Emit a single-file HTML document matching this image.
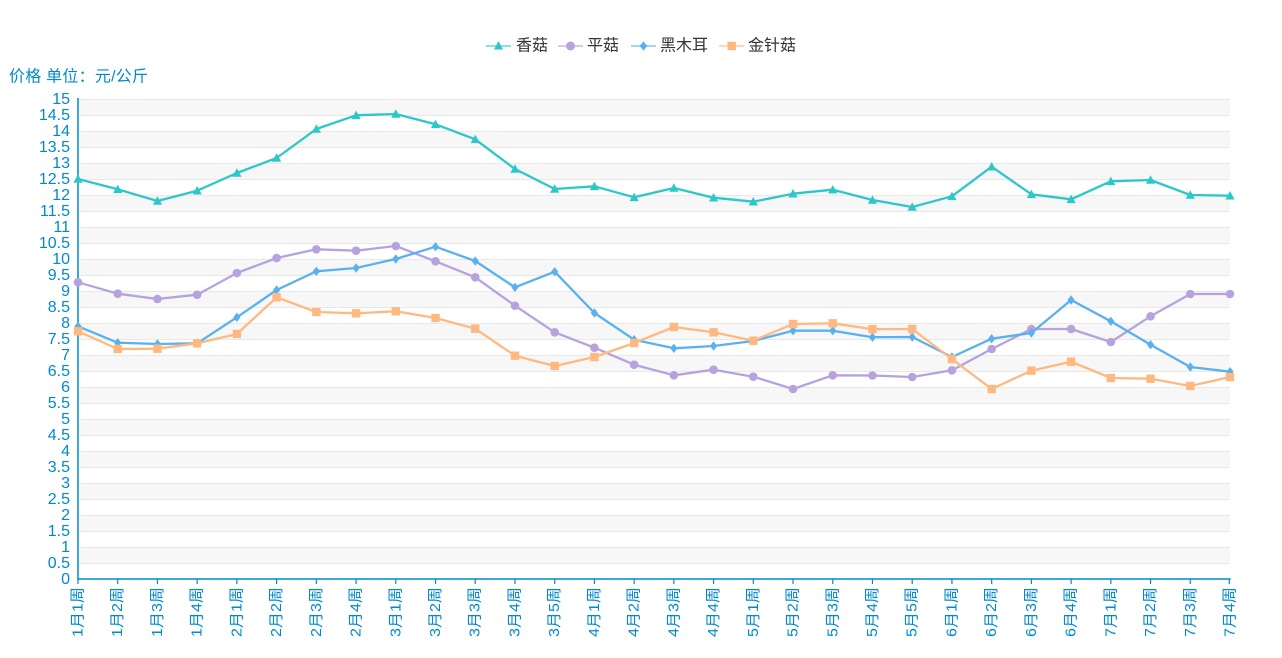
<!DOCTYPE html>
<html><head><meta charset="utf-8"><style>
html,body{margin:0;padding:0;background:#fff;}
svg{display:block;font-family:"Liberation Sans","Noto Sans CJK SC",sans-serif;}
</style></head><body>
<svg width="1282" height="658" viewBox="0 0 1282 658" xmlns="http://www.w3.org/2000/svg">
<defs>
<marker id="mTri" markerWidth="10" markerHeight="10" refX="5" refY="5" markerUnits="userSpaceOnUse" viewBox="0 0 10 10"><path d="M5,0.3 L9.6,8.8 L0.4,8.8Z" fill="#2ec7c9"/></marker>
<marker id="mCir" markerWidth="10" markerHeight="10" refX="5" refY="5" markerUnits="userSpaceOnUse" viewBox="0 0 10 10"><circle cx="5" cy="5" r="4.3" fill="#b6a2de"/></marker>
<marker id="mDia" markerWidth="10" markerHeight="10" refX="5" refY="5" markerUnits="userSpaceOnUse" viewBox="0 0 10 10"><path d="M5,0.3 L8.6,5 L5,9.7 L1.4,5Z" fill="#5ab1ef"/></marker>
<marker id="mSq" markerWidth="10" markerHeight="10" refX="5" refY="5" markerUnits="userSpaceOnUse" viewBox="0 0 10 10"><rect x="0.8" y="0.8" width="8.4" height="8.4" fill="#ffb980"/></marker>
</defs>

<g fill="#f7f7f7">
<rect x="78" y="99" width="1152" height="16"/>
<rect x="78" y="131" width="1152" height="16"/>
<rect x="78" y="163" width="1152" height="16"/>
<rect x="78" y="195" width="1152" height="16"/>
<rect x="78" y="227" width="1152" height="16"/>
<rect x="78" y="259" width="1152" height="16"/>
<rect x="78" y="291" width="1152" height="16"/>
<rect x="78" y="323" width="1152" height="16"/>
<rect x="78" y="355" width="1152" height="16"/>
<rect x="78" y="387" width="1152" height="16"/>
<rect x="78" y="419" width="1152" height="16"/>
<rect x="78" y="451" width="1152" height="16"/>
<rect x="78" y="483" width="1152" height="16"/>
<rect x="78" y="515" width="1152" height="16"/>
<rect x="78" y="547" width="1152" height="16"/>
</g>
<g stroke="#e8e8e8" stroke-width="1">
<line x1="78" x2="1230" y1="99.5" y2="99.5"/><line x1="78" x2="1230" y1="115.5" y2="115.5"/>
<line x1="78" x2="1230" y1="131.5" y2="131.5"/><line x1="78" x2="1230" y1="147.5" y2="147.5"/>
<line x1="78" x2="1230" y1="163.5" y2="163.5"/><line x1="78" x2="1230" y1="179.5" y2="179.5"/>
<line x1="78" x2="1230" y1="195.5" y2="195.5"/><line x1="78" x2="1230" y1="211.5" y2="211.5"/>
<line x1="78" x2="1230" y1="227.5" y2="227.5"/><line x1="78" x2="1230" y1="243.5" y2="243.5"/>
<line x1="78" x2="1230" y1="259.5" y2="259.5"/><line x1="78" x2="1230" y1="275.5" y2="275.5"/>
<line x1="78" x2="1230" y1="291.5" y2="291.5"/><line x1="78" x2="1230" y1="307.5" y2="307.5"/>
<line x1="78" x2="1230" y1="323.5" y2="323.5"/><line x1="78" x2="1230" y1="339.5" y2="339.5"/>
<line x1="78" x2="1230" y1="355.5" y2="355.5"/><line x1="78" x2="1230" y1="371.5" y2="371.5"/>
<line x1="78" x2="1230" y1="387.5" y2="387.5"/><line x1="78" x2="1230" y1="403.5" y2="403.5"/>
<line x1="78" x2="1230" y1="419.5" y2="419.5"/><line x1="78" x2="1230" y1="435.5" y2="435.5"/>
<line x1="78" x2="1230" y1="451.5" y2="451.5"/><line x1="78" x2="1230" y1="467.5" y2="467.5"/>
<line x1="78" x2="1230" y1="483.5" y2="483.5"/><line x1="78" x2="1230" y1="499.5" y2="499.5"/>
<line x1="78" x2="1230" y1="515.5" y2="515.5"/><line x1="78" x2="1230" y1="531.5" y2="531.5"/>
<line x1="78" x2="1230" y1="547.5" y2="547.5"/><line x1="78" x2="1230" y1="563.5" y2="563.5"/>
</g>

<text x="9" y="77" dominant-baseline="central" font-size="16" fill="#008acd" textLength="139" lengthAdjust="spacing">价格 单位：元/公斤</text>

<g stroke-width="2" opacity="0.55">
<line x1="486" x2="511" y1="46" y2="46" stroke="#2ec7c9"/>
<line x1="558" x2="583" y1="46" y2="46" stroke="#b6a2de"/>
<line x1="631" x2="656" y1="46" y2="46" stroke="#5ab1ef"/>
<line x1="719" x2="744" y1="46" y2="46" stroke="#ffb980"/>
</g>
<path d="M498.5,41 L503,49.5 L494,49.5Z" fill="#2ec7c9"/>
<circle cx="570.5" cy="46" r="4.5" fill="#b6a2de"/>
<path d="M643.5,41.3 L647.2,46 L643.5,50.7 L639.8,46Z" fill="#5ab1ef"/>
<rect x="727.5" y="41.8" width="8.4" height="8.4" fill="#ffb980"/>
<g font-size="16" fill="#333" dominant-baseline="central">
<text x="516" y="46">香菇</text>
<text x="587" y="46">平菇</text>
<text x="660" y="46">黑木耳</text>
<text x="748" y="46">金针菇</text>
</g>

<g font-size="16" fill="#008acd" text-anchor="end" dominant-baseline="central">
<text x="70" y="99.5">15</text><text x="70" y="115.5">14.5</text>
<text x="70" y="131.5">14</text><text x="70" y="147.5">13.5</text>
<text x="70" y="163.5">13</text><text x="70" y="179.5">12.5</text>
<text x="70" y="195.5">12</text><text x="70" y="211.5">11.5</text>
<text x="70" y="227.5">11</text><text x="70" y="243.5">10.5</text>
<text x="70" y="259.5">10</text><text x="70" y="275.5">9.5</text>
<text x="70" y="291.5">9</text><text x="70" y="307.5">8.5</text>
<text x="70" y="323.5">8</text><text x="70" y="339.5">7.5</text>
<text x="70" y="355.5">7</text><text x="70" y="371.5">6.5</text>
<text x="70" y="387.5">6</text><text x="70" y="403.5">5.5</text>
<text x="70" y="419.5">5</text><text x="70" y="435.5">4.5</text>
<text x="70" y="451.5">4</text><text x="70" y="467.5">3.5</text>
<text x="70" y="483.5">3</text><text x="70" y="499.5">2.5</text>
<text x="70" y="515.5">2</text><text x="70" y="531.5">1.5</text>
<text x="70" y="547.5">1</text><text x="70" y="563.5">0.5</text>
<text x="70" y="579.5">0</text>
</g>

<g stroke="#008acd" stroke-width="1.5">
<line x1="78" x2="78" y1="98" y2="579.5"/>
<line x1="77.3" x2="1230.7" y1="579" y2="579"/>
</g>
<g stroke="#008acd" stroke-width="1.2">
<line x1="78" x2="78" y1="579" y2="584"/><line x1="117.72" x2="117.72" y1="579" y2="584"/>
<line x1="157.45" x2="157.45" y1="579" y2="584"/><line x1="197.17" x2="197.17" y1="579" y2="584"/>
<line x1="236.9" x2="236.9" y1="579" y2="584"/><line x1="276.62" x2="276.62" y1="579" y2="584"/>
<line x1="316.34" x2="316.34" y1="579" y2="584"/><line x1="356.07" x2="356.07" y1="579" y2="584"/>
<line x1="395.79" x2="395.79" y1="579" y2="584"/><line x1="435.52" x2="435.52" y1="579" y2="584"/>
<line x1="475.24" x2="475.24" y1="579" y2="584"/><line x1="514.97" x2="514.97" y1="579" y2="584"/>
<line x1="554.69" x2="554.69" y1="579" y2="584"/><line x1="594.41" x2="594.41" y1="579" y2="584"/>
<line x1="634.14" x2="634.14" y1="579" y2="584"/><line x1="673.86" x2="673.86" y1="579" y2="584"/>
<line x1="713.59" x2="713.59" y1="579" y2="584"/><line x1="753.31" x2="753.31" y1="579" y2="584"/>
<line x1="793.03" x2="793.03" y1="579" y2="584"/><line x1="832.76" x2="832.76" y1="579" y2="584"/>
<line x1="872.48" x2="872.48" y1="579" y2="584"/><line x1="912.21" x2="912.21" y1="579" y2="584"/>
<line x1="951.93" x2="951.93" y1="579" y2="584"/><line x1="991.66" x2="991.66" y1="579" y2="584"/>
<line x1="1031.38" x2="1031.38" y1="579" y2="584"/><line x1="1071.1" x2="1071.1" y1="579" y2="584"/>
<line x1="1110.83" x2="1110.83" y1="579" y2="584"/><line x1="1150.55" x2="1150.55" y1="579" y2="584"/>
<line x1="1190.28" x2="1190.28" y1="579" y2="584"/><line x1="1229.3" x2="1229.3" y1="579" y2="584"/>
</g>

<g font-size="15" fill="#008acd" text-anchor="end" dominant-baseline="central">
<text transform="translate(78,587) rotate(-90)" textLength="50" lengthAdjust="spacingAndGlyphs">1月1周</text>
<text transform="translate(117.72,587) rotate(-90)" textLength="50" lengthAdjust="spacingAndGlyphs">1月2周</text>
<text transform="translate(157.45,587) rotate(-90)" textLength="50" lengthAdjust="spacingAndGlyphs">1月3周</text>
<text transform="translate(197.17,587) rotate(-90)" textLength="50" lengthAdjust="spacingAndGlyphs">1月4周</text>
<text transform="translate(236.9,587) rotate(-90)" textLength="50" lengthAdjust="spacingAndGlyphs">2月1周</text>
<text transform="translate(276.62,587) rotate(-90)" textLength="50" lengthAdjust="spacingAndGlyphs">2月2周</text>
<text transform="translate(316.34,587) rotate(-90)" textLength="50" lengthAdjust="spacingAndGlyphs">2月3周</text>
<text transform="translate(356.07,587) rotate(-90)" textLength="50" lengthAdjust="spacingAndGlyphs">2月4周</text>
<text transform="translate(395.79,587) rotate(-90)" textLength="50" lengthAdjust="spacingAndGlyphs">3月1周</text>
<text transform="translate(435.52,587) rotate(-90)" textLength="50" lengthAdjust="spacingAndGlyphs">3月2周</text>
<text transform="translate(475.24,587) rotate(-90)" textLength="50" lengthAdjust="spacingAndGlyphs">3月3周</text>
<text transform="translate(514.97,587) rotate(-90)" textLength="50" lengthAdjust="spacingAndGlyphs">3月4周</text>
<text transform="translate(554.69,587) rotate(-90)" textLength="50" lengthAdjust="spacingAndGlyphs">3月5周</text>
<text transform="translate(594.41,587) rotate(-90)" textLength="50" lengthAdjust="spacingAndGlyphs">4月1周</text>
<text transform="translate(634.14,587) rotate(-90)" textLength="50" lengthAdjust="spacingAndGlyphs">4月2周</text>
<text transform="translate(673.86,587) rotate(-90)" textLength="50" lengthAdjust="spacingAndGlyphs">4月3周</text>
<text transform="translate(713.59,587) rotate(-90)" textLength="50" lengthAdjust="spacingAndGlyphs">4月4周</text>
<text transform="translate(753.31,587) rotate(-90)" textLength="50" lengthAdjust="spacingAndGlyphs">5月1周</text>
<text transform="translate(793.03,587) rotate(-90)" textLength="50" lengthAdjust="spacingAndGlyphs">5月2周</text>
<text transform="translate(832.76,587) rotate(-90)" textLength="50" lengthAdjust="spacingAndGlyphs">5月3周</text>
<text transform="translate(872.48,587) rotate(-90)" textLength="50" lengthAdjust="spacingAndGlyphs">5月4周</text>
<text transform="translate(912.21,587) rotate(-90)" textLength="50" lengthAdjust="spacingAndGlyphs">5月5周</text>
<text transform="translate(951.93,587) rotate(-90)" textLength="50" lengthAdjust="spacingAndGlyphs">6月1周</text>
<text transform="translate(991.66,587) rotate(-90)" textLength="50" lengthAdjust="spacingAndGlyphs">6月2周</text>
<text transform="translate(1031.38,587) rotate(-90)" textLength="50" lengthAdjust="spacingAndGlyphs">6月3周</text>
<text transform="translate(1071.1,587) rotate(-90)" textLength="50" lengthAdjust="spacingAndGlyphs">6月4周</text>
<text transform="translate(1110.83,587) rotate(-90)" textLength="50" lengthAdjust="spacingAndGlyphs">7月1周</text>
<text transform="translate(1150.55,587) rotate(-90)" textLength="50" lengthAdjust="spacingAndGlyphs">7月2周</text>
<text transform="translate(1190.28,587) rotate(-90)" textLength="50" lengthAdjust="spacingAndGlyphs">7月3周</text>
<text transform="translate(1230,587) rotate(-90)" textLength="50" lengthAdjust="spacingAndGlyphs">7月4周</text>
</g>

<g fill="none" stroke-width="2.3" stroke-linejoin="round" stroke-linecap="round">
<polyline stroke="#2ec7c9" marker-start="url(#mTri)" marker-mid="url(#mTri)" marker-end="url(#mTri)" points="78,179 117.72,189.3 157.45,201 197.17,190.7 236.9,173 276.62,158 316.34,129 356.07,115.3 395.79,114 435.52,124.3 475.24,139.3 514.97,169 554.69,189 594.41,186.3 634.14,197.3 673.86,188 713.59,197.7 753.31,201.7 793.03,193.7 832.76,189.7 872.48,200 912.21,207 951.93,196.3 991.66,166.7 1031.38,194.3 1071.1,199.3 1110.83,181.3 1150.55,180 1190.28,195 1230,195.7"/>
<polyline stroke="#b6a2de" marker-start="url(#mCir)" marker-mid="url(#mCir)" marker-end="url(#mCir)" points="78,282.3 117.72,293.7 157.45,299 197.17,294.7 236.9,273 276.62,258 316.34,249.3 356.07,250.7 395.79,246 435.52,261.3 475.24,277.3 514.97,305.7 554.69,332.3 594.41,347.7 634.14,364.7 673.86,375.3 713.59,369.7 753.31,376.7 793.03,389 832.76,375.3 872.48,375.5 912.21,377 951.93,370.3 991.66,349 1031.38,329 1071.1,329 1110.83,342 1150.55,316.3 1190.28,294 1230,294"/>
<polyline stroke="#5ab1ef" marker-start="url(#mDia)" marker-mid="url(#mDia)" marker-end="url(#mDia)" points="78,326.3 117.72,342.7 157.45,344 197.17,343.3 236.9,317.3 276.62,290 316.34,271.3 356.07,268 395.79,259 435.52,246.7 475.24,261 514.97,287.3 554.69,271.7 594.41,313 634.14,339.7 673.86,348.3 713.59,346 753.31,341 793.03,330.7 832.76,330.7 872.48,337.2 912.21,337 951.93,357 991.66,338.7 1031.38,333 1071.1,300 1110.83,321.3 1150.55,344.7 1190.28,367 1230,371.7"/>
<polyline stroke="#ffb980" marker-start="url(#mSq)" marker-mid="url(#mSq)" marker-end="url(#mSq)" points="78,331.3 117.72,349 157.45,348.7 197.17,343.3 236.9,334 276.62,297.3 316.34,312 356.07,313.3 395.79,311.3 435.52,318 475.24,328.7 514.97,355.7 554.69,366 594.41,357 634.14,343 673.86,327 713.59,332.3 753.31,340.7 793.03,324 832.76,323.3 872.48,329.2 912.21,329 951.93,359 991.66,389 1031.38,370.7 1071.1,361.7 1110.83,378 1150.55,378.7 1190.28,386 1230,377"/>
</g>
</svg>
</body></html>
